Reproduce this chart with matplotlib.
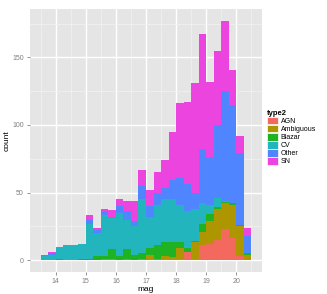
import numpy as np
import matplotlib
matplotlib.use("Agg")
import matplotlib.pyplot as plt
from matplotlib.patches import Patch

plt.rcParams['font.family'] = ['Liberation Sans', 'DejaVu Sans']

# histogram bins of mag (binwidth 0.25, from 13.5 to 20.5)
bin_left = np.arange(13.5, 20.5, 0.25)
types = ["AGN", "Ambiguous", "Blazar", "CV", "Other", "SN"]
colors = ["#F4695E", "#AE9600", "#1FB324", "#22B5BE", "#4F86FF", "#EC45DF"]

agn       = [0, 0, 0, 0, 0, 0, 0, 0, 0, 0, 0, 0, 0, 0, 0, 0, 1, 1, 1, 6, 1, 11, 12, 15, 23, 16, 3, 0]
ambiguous = [0, 0, 0, 0, 0, 0, 0, 0, 1, 1, 0, 1, 0, 1, 4, 1, 2, 1, 8, 0, 12, 10, 17, 23, 19, 25, 22, 4]
blazar    = [0, 0, 1, 0, 0, 1, 1, 3, 2, 7, 3, 7, 4, 4, 5, 10, 10, 11, 4, 3, 1, 6, 5, 1, 1, 1, 1, 1]
cv        = [3, 4, 9, 11, 11, 11, 26, 17, 30, 23, 32, 22, 21, 40, 23, 30, 32, 32, 28, 27, 24, 15, 7, 7, 1, 0, 0, 0]
other     = [1, 1, 0, 0, 0, 0, 3, 2, 3, 1, 5, 6, 4, 10, 8, 9, 8, 14, 20, 20, 12, 40, 35, 54, 81, 73, 53, 13]
sn        = [0, 1, 0, 0, 0, 0, 3, 2, 2, 5, 5, 8, 15, 12, 12, 15, 21, 36, 55, 61, 81, 85, 56, 55, 52, 26, 13, 6]

series = [agn, ambiguous, blazar, cv, other, sn]

fig = plt.figure(figsize=(3.27, 2.94), dpi=100)
ax = fig.add_axes([30/327, 22/294, 232/327, 263/294])
ax.set_facecolor("#E5E5E5")

bottom = np.zeros(len(bin_left))
for vals, col in zip(series, colors):
    ax.bar(bin_left, vals, width=0.25, bottom=bottom, align="edge",
           color=col, linewidth=0, zorder=3)
    bottom += np.array(vals)

ymax = bottom.max()
ax.set_xlim(13.5 - 0.35, 20.5 + 0.35)
ax.set_ylim(-0.05 * ymax, 1.05 * ymax)

ax.set_xticks([14, 15, 16, 17, 18, 19, 20])
ax.set_yticks([0, 50, 100, 150])
ax.set_xticks(np.arange(13.5, 21, 1), minor=True)
ax.set_yticks([25, 75, 125, 175], minor=True)
ax.grid(which="major", color="white", linewidth=1.0, zorder=1)
ax.grid(which="minor", color="#F2F2F2", linewidth=0.5, zorder=1)
ax.tick_params(which="major", length=2.5, width=0.6, color="#7F7F7F",
               labelsize=5, labelcolor="#7F7F7F", pad=2)
ax.tick_params(which="minor", length=0)
for s in ax.spines.values():
    s.set_visible(False)

ax.set_xlabel("mag", fontsize=6, labelpad=0.5)
ax.set_ylabel("count", fontsize=6, labelpad=1)

handles = [Patch(facecolor=c, edgecolor="white", linewidth=0.5) for c in colors]
leg = fig.legend(handles, types, title="type2", loc="upper left",
                 bbox_to_anchor=(264/327, 1 - 107/294), frameon=False,
                 fontsize=5, title_fontsize=5.5, handlelength=1.6,
                 handleheight=1.3, labelspacing=0.0, handletextpad=0.4,
                 borderaxespad=0)
leg.get_title().set_fontweight("bold")
leg._legend_box.align = "left"

fig.savefig("out.png", dpi=100)
